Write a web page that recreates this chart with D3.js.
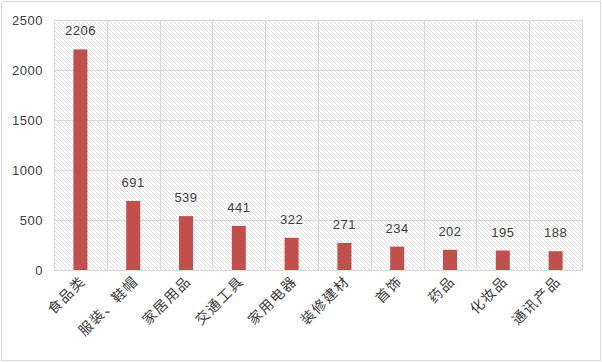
<!DOCTYPE html>
<html><head><meta charset="utf-8">
<script src="https://cdn.jsdelivr.net/npm/d3@7"></script>
<style>body{margin:0;background:#fff}svg{display:block}</style>
</head><body>
<svg id="c" width="602" height="362"></svg>
<script>
const categories = ["食品类","服装、鞋帽","家居用品","交通工具","家用电器","装修建材","首饰","药品","化妆品","通讯产品"];
const values = [2206,691,539,441,322,271,234,202,195,188];
const yTicks = [0,500,1000,1500,2000,2500];

const svg = d3.select("#c");
const m = {l:54, r:20, t:20, b:92};
const W = 602, H = 362;
const x = d3.scaleBand().domain(categories).range([m.l, W-m.r]).paddingInner(0).paddingOuter(0);
const y = d3.scaleLinear().domain([0,2500]).range([H-m.b, m.t]);

// border
svg.append("rect").attr("x",1.5).attr("y",1.5).attr("width",W-3).attr("height",H-3)
  .attr("fill","#fff").attr("stroke","#d9d9d9").attr("stroke-width",1);

const defs = svg.append("defs");
const pat = defs.append("pattern").attr("id","hatch").attr("patternUnits","userSpaceOnUse")
  .attr("width",4).attr("height",4);
pat.append("rect").attr("width",4).attr("height",4).attr("fill","#fff");
pat.append("path").attr("d","M-1,-1 L5,5 M3,-1 L5,1 M-1,3 L1,5").attr("stroke","#dedede").attr("stroke-width",1);

svg.append("rect").attr("x",m.l).attr("y",m.t).attr("width",W-m.r-m.l).attr("height",H-m.b-m.t)
  .attr("fill","url(#hatch)");

// horizontal gridlines
svg.append("g").selectAll("line").data(yTicks.filter(d=>d>0)).join("line")
  .attr("x1",m.l).attr("x2",W-m.r).attr("y1",d=>Math.round(y(d))+0.5).attr("y2",d=>Math.round(y(d))+0.5)
  .attr("stroke","#d9d9d9");
// vertical gridlines at band edges
const edges = categories.map(c=>x(c)).concat([x.range()[1]]);
svg.append("g").selectAll("line").data(edges).join("line")
  .attr("x1",d=>Math.round(d)+0.5).attr("x2",d=>Math.round(d)+0.5).attr("y1",m.t).attr("y2",H-m.b)
  .attr("stroke","#d9d9d9");

// bars
const bw = 14;
svg.append("g").selectAll("rect").data(values).join("rect")
  .attr("x",(d,i)=>x(categories[i])+x.bandwidth()/2-bw/2)
  .attr("y",d=>y(d)).attr("width",bw).attr("height",d=>y(0)-y(d))
  .attr("fill","#c0504d");

// x axis line
svg.append("line").attr("x1",m.l).attr("x2",W-m.r).attr("y1",y(0)+0.5).attr("y2",y(0)+0.5)
  .attr("stroke","#d9d9d9").attr("stroke-width",1);

// value labels
svg.append("g").selectAll("text").data(values).join("text")
  .attr("x",(d,i)=>x(categories[i])+x.bandwidth()/2)
  .attr("y",d=>y(d)-14).attr("text-anchor","middle")
  .attr("font-family","Liberation Sans, Arial, sans-serif").attr("font-size",13)
  .attr("letter-spacing",0.5)
  .attr("fill","#404040").text(d=>d);

// y labels
svg.append("g").selectAll("text").data(yTicks).join("text")
  .attr("x",43).attr("y",d=>y(d)).attr("dy","0.35em").attr("text-anchor","end")
  .attr("font-family","Liberation Sans, Arial, sans-serif").attr("font-size",13)
  .attr("letter-spacing",0.5)
  .attr("fill","#404040").text(d=>d);

// x labels
svg.append("g").selectAll("text").data(categories).join("text")
  .attr("transform",c=>`translate(${x(c)+x.bandwidth()/2+6},${y(0)+12}) rotate(-45)`)
  .attr("text-anchor","end")
  .attr("font-family","Noto Sans CJK SC, sans-serif").attr("font-size",14)
  .attr("letter-spacing",1.5)
  .attr("fill","#404040").text(c=>c);
</script>
</body></html>
